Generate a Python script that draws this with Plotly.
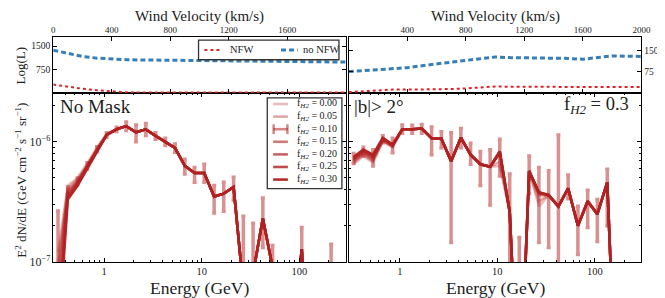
import plotly.graph_objects as go

# ---------------- data ----------------
energy = [0.336, 0.423, 0.532, 0.670, 0.844, 1.06, 1.34, 1.68, 2.12, 2.67,
          3.36, 4.23, 5.32, 6.70, 8.44, 10.6, 13.4, 16.8, 21.2, 26.7,
          33.6, 42.3, 53.2, 67.0, 84.4, 106, 134, 168, 212, 267]

fh2_labels = ["0.00", "0.05", "0.10", "0.15", "0.20", "0.25", "0.30"]
line_alpha = [0.3, 0.4, 0.55, 0.6, 0.7, 0.82, 0.95]

# No Mask spectra (GeV cm^-2 s^-1 sr^-1)
nomask_f000 = [1.2e-7, 4.3e-7, 5.0e-7, 6.6e-7, 9.0e-7, 1.16e-6, 1.27e-6, 1.35e-6, 1.20e-6, 1.27e-6,
               1.12e-6, 1.00e-6, 8.9e-7, 6.3e-7, 5.5e-7, 5.5e-7, 3.5e-7, 3.7e-7, 4.2e-7, 6e-8,
               8e-8, 2.3e-7, 9e-8, 5e-9, 2e-8, 1.28e-7, 5e-9, 5e-9, 5e-9, 5e-9]
nomask_f005 = [1.0e-7, 4.1e-7, 4.85e-7, 6.45e-7, 8.8e-7, 1.15e-6, 1.27e-6, 1.35e-6, 1.20e-6, 1.27e-6,
               1.12e-6, 1.00e-6, 8.9e-7, 6.3e-7, 5.5e-7, 5.5e-7, 3.5e-7, 3.7e-7, 4.2e-7, 6e-8,
               8e-8, 2.3e-7, 9e-8, 5e-9, 2e-8, 1.28e-7, 5e-9, 5e-9, 5e-9, 5e-9]
nomask_f010 = [8e-8, 3.9e-7, 4.7e-7, 6.3e-7, 8.7e-7, 1.15e-6, 1.27e-6, 1.35e-6, 1.20e-6, 1.27e-6,
               1.12e-6, 1.00e-6, 8.9e-7, 6.3e-7, 5.5e-7, 5.5e-7, 3.5e-7, 3.7e-7, 4.2e-7, 6e-8,
               8e-8, 2.3e-7, 9e-8, 5e-9, 2e-8, 1.28e-7, 5e-9, 5e-9, 5e-9, 5e-9]
nomask_f015 = [6e-8, 3.75e-7, 4.6e-7, 6.2e-7, 8.6e-7, 1.14e-6, 1.27e-6, 1.35e-6, 1.20e-6, 1.27e-6,
               1.12e-6, 1.00e-6, 8.9e-7, 6.3e-7, 5.5e-7, 5.5e-7, 3.5e-7, 3.7e-7, 4.2e-7, 6e-8,
               8e-8, 2.3e-7, 9e-8, 5e-9, 2e-8, 1.28e-7, 5e-9, 5e-9, 5e-9, 5e-9]
nomask_f020 = [4e-8, 3.6e-7, 4.5e-7, 6.1e-7, 8.5e-7, 1.14e-6, 1.27e-6, 1.35e-6, 1.20e-6, 1.27e-6,
               1.12e-6, 1.00e-6, 8.9e-7, 6.3e-7, 5.5e-7, 5.5e-7, 3.5e-7, 3.7e-7, 4.2e-7, 6e-8,
               8e-8, 2.3e-7, 9e-8, 5e-9, 2e-8, 1.28e-7, 5e-9, 5e-9, 5e-9, 5e-9]
nomask_f025 = [3e-8, 3.45e-7, 4.4e-7, 6.0e-7, 8.4e-7, 1.14e-6, 1.27e-6, 1.35e-6, 1.20e-6, 1.27e-6,
               1.12e-6, 1.00e-6, 8.9e-7, 6.3e-7, 5.5e-7, 5.5e-7, 3.5e-7, 3.7e-7, 4.2e-7, 6e-8,
               8e-8, 2.3e-7, 9e-8, 5e-9, 2e-8, 1.28e-7, 5e-9, 5e-9, 5e-9, 5e-9]
nomask_f030 = [2e-8, 3.3e-7, 4.3e-7, 5.9e-7, 8.3e-7, 1.14e-6, 1.27e-6, 1.35e-6, 1.20e-6, 1.27e-6,
               1.12e-6, 1.00e-6, 8.9e-7, 6.3e-7, 5.5e-7, 5.5e-7, 3.5e-7, 3.7e-7, 4.2e-7, 6e-8,
               8e-8, 2.3e-7, 9e-8, 5e-9, 2e-8, 1.28e-7, 5e-9, 5e-9, 5e-9, 5e-9]
# error-bar bounds for the f_H2 = 0.10 series (None = no bar)
nomask_err_hi = [2.65e-7, 4.2e-7, 5.0e-7, 6.7e-7, 9.1e-7, 1.19e-6, 1.32e-6, 1.46e-6, 1.38e-6, 1.42e-6,
                 1.19e-6, 1.07e-6, 9.6e-7, 7.14e-7, 6.1e-7, 6.5e-7, 4.33e-7, 4.6e-7, 5.06e-7, 2.4e-7,
                 2.1e-7, 3.4e-7, 1.37e-7, None, None, 1.93e-7, None, None, 1.4e-7, None]
nomask_err_lo = [1e-9, 3.6e-7, 4.4e-7, 5.9e-7, 8.3e-7, 1.09e-6, 1.22e-6, 1.24e-6, 1.00e-6, 1.13e-6,
                 1.05e-6, 9.3e-7, 8.2e-7, 5.39e-7, 4.6e-7, 4.6e-7, 2.55e-7, 2.64e-7, 3.27e-7, 1e-9,
                 1e-9, 1.32e-7, 1e-9, None, None, 1e-9, None, None, 1e-9, None]

# |b| > 2 deg spectra
bmask_f000 = [6.5e-7, 7.6e-7, 6.7e-7, 1.0e-6, 9.0e-7, 1.27e-6, 1.27e-6, 1.29e-6, 1.07e-6, 1.06e-6,
              6.9e-7, 1.08e-6, 7.8e-7, 6.5e-7, 6.2e-7, 6.3e-7, 2.6e-7, 5e-9, 5.7e-7, 2.9e-7,
              3.6e-7, 2.9e-7, 4.1e-7, 2.0e-7, 3.2e-7, 2.5e-7, 4.6e-7, 5e-9, 5e-9, 5e-9]
bmask_f005 = [6.7e-7, 7.8e-7, 6.9e-7, 1.02e-6, 9.1e-7, 1.27e-6, 1.27e-6, 1.29e-6, 1.07e-6, 1.06e-6,
              6.9e-7, 1.08e-6, 7.8e-7, 6.5e-7, 6.2e-7, 6.8e-7, 2.6e-7, 5e-9, 5.7e-7, 3.2e-7,
              3.6e-7, 2.9e-7, 4.1e-7, 2.0e-7, 3.2e-7, 2.5e-7, 4.6e-7, 5e-9, 5e-9, 5e-9]
bmask_f010 = [6.9e-7, 8.0e-7, 7.1e-7, 1.03e-6, 9.2e-7, 1.27e-6, 1.27e-6, 1.29e-6, 1.07e-6, 1.06e-6,
              6.9e-7, 1.08e-6, 7.8e-7, 6.5e-7, 6.2e-7, 8.0e-7, 2.6e-7, 5e-9, 5.7e-7, 3.6e-7,
              3.6e-7, 2.9e-7, 4.1e-7, 2.0e-7, 3.2e-7, 2.5e-7, 4.6e-7, 5e-9, 5e-9, 5e-9]
bmask_f015 = [7.05e-7, 8.2e-7, 7.3e-7, 1.05e-6, 9.3e-7, 1.27e-6, 1.27e-6, 1.29e-6, 1.07e-6, 1.06e-6,
              6.9e-7, 1.08e-6, 7.8e-7, 6.5e-7, 6.2e-7, 8.1e-7, 2.6e-7, 5e-9, 5.7e-7, 3.7e-7,
              3.6e-7, 2.9e-7, 4.1e-7, 2.0e-7, 3.2e-7, 2.5e-7, 4.6e-7, 5e-9, 5e-9, 5e-9]
bmask_f020 = [7.2e-7, 8.35e-7, 7.5e-7, 1.06e-6, 9.4e-7, 1.27e-6, 1.27e-6, 1.29e-6, 1.07e-6, 1.06e-6,
              6.9e-7, 1.08e-6, 7.8e-7, 6.5e-7, 6.2e-7, 8.2e-7, 2.6e-7, 5e-9, 5.7e-7, 3.75e-7,
              3.6e-7, 2.9e-7, 4.1e-7, 2.0e-7, 3.2e-7, 2.5e-7, 4.6e-7, 5e-9, 5e-9, 5e-9]
bmask_f025 = [7.35e-7, 8.5e-7, 7.65e-7, 1.07e-6, 9.45e-7, 1.27e-6, 1.27e-6, 1.29e-6, 1.07e-6, 1.06e-6,
              6.9e-7, 1.08e-6, 7.8e-7, 6.5e-7, 6.2e-7, 8.3e-7, 2.6e-7, 5e-9, 5.7e-7, 3.8e-7,
              3.6e-7, 2.9e-7, 4.1e-7, 2.0e-7, 3.2e-7, 2.5e-7, 4.6e-7, 5e-9, 5e-9, 5e-9]
bmask_f030 = [7.45e-7, 8.6e-7, 7.8e-7, 1.08e-6, 9.5e-7, 1.27e-6, 1.27e-6, 1.29e-6, 1.07e-6, 1.06e-6,
              6.9e-7, 1.08e-6, 7.8e-7, 6.5e-7, 6.2e-7, 8.3e-7, 2.6e-7, 5e-9, 5.7e-7, 3.8e-7,
              3.6e-7, 2.9e-7, 4.1e-7, 2.0e-7, 3.2e-7, 2.5e-7, 4.6e-7, 5e-9, 5e-9, 5e-9]
bmask_err_hi = [8.0e-7, 9.0e-7, 8.6e-7, 1.12e-6, 1.07e-6, 1.38e-6, 1.37e-6, 1.39e-6, 1.33e-6, 1.21e-6,
                1.19e-6, 1.29e-6, 9.7e-7, 8.3e-7, 8.6e-7, 1.05e-6, 5.4e-7, 1.6e-7, 7.6e-7, 6.1e-7,
                5.74e-7, 1.14e-6, 5.3e-7, 2.9e-7, 3.95e-7, 3.31e-7, 5.9e-7, None, None, None]
bmask_err_lo = [6.6e-7, 7.6e-7, 6.3e-7, 9.8e-7, 8.1e-7, 1.18e-6, 1.18e-6, 1.18e-6, 7.8e-7, 8.9e-7,
                1.45e-7, 8.9e-7, 6.5e-7, 4.33e-7, 2.97e-7, 5.2e-7, 1e-9, 1e-9, 3.7e-7, 1.45e-7,
                1.32e-7, 1e-9, 3.36e-7, 1.15e-7, 1.93e-7, 1.48e-7, 2.0e-7, None, None, None]

# Wind velocity scans (top panels)
velocity = [0, 100, 200, 300, 400, 500, 600, 700, 800, 900, 1000,
            1100, 1200, 1300, 1400, 1500, 1600, 1700, 1800, 1900, 2000]
nomask_logL_nfw = [270, 200, 135, 85, 45, 22, 14, 12, 12, 12, 12,
                   12, 12, 12, 12, 12, 12, 12, 12, 12, 12]
nomask_logL_nonfw = [1370, 1260, 1170, 1115, 1085, 1068, 1058, 1050, 1045, 1042, 1040,
                     1035, 1030, 1025, 1020, 1015, 1010, 1005, 1000, 995, 990]
bmask_logL_nfw = [3, 6, 10, 12, 12, 12, 13, 14, 16, 20, 23,
                  22, 22, 21, 21, 21, 21, 21, 21, 21, 21]
bmask_logL_nonfw = [76, 79, 83, 87, 90, 97, 104, 110, 116, 122, 128,
                    126, 125, 125, 125, 123, 120, 126, 132, 131, 130]

# ---------------- layout helpers ----------------
W, H = 665, 298
def px(x): return x / W
def py(y): return 1 - y / H

FONT = "Liberation Serif, DejaVu Serif, serif"
TXT = "#222222"
RED = (178, 34, 34)
BLUE_DASH = "5px,3px"
def rgba(c, a): return "rgba(%d,%d,%d,%.2f)" % (c[0], c[1], c[2], a)

fig = go.Figure()

nomask_series = [nomask_f000, nomask_f005, nomask_f010, nomask_f015, nomask_f020, nomask_f025, nomask_f030]
bmask_series = [bmask_f000, bmask_f005, bmask_f010, bmask_f015, bmask_f020, bmask_f025, bmask_f030]

def err_arrays(vals, hi, lo):
    plus, minus = [], []
    for v, h, l in zip(vals, hi, lo):
        plus.append(0 if h is None else max(h - v, 0))
        minus.append(0 if l is None else max(v - l, 0))
    return plus, minus

for series, hi, lo, xa, ya in [(nomask_series, nomask_err_hi, nomask_err_lo, "x", "y"),
                               (bmask_series, bmask_err_hi, bmask_err_lo, "x2", "y2")]:
    for i, vals in enumerate(series):
        tr = dict(x=energy, y=vals, mode="lines", xaxis=xa, yaxis=ya, showlegend=False,
                  line=dict(color=rgba(RED, line_alpha[i]), width=2.6),
                  name="f_H2 = " + fh2_labels[i])
        if fh2_labels[i] == "0.10":
            p, m = err_arrays(vals, hi, lo)
            tr["error_y"] = dict(type="data", symmetric=False, array=p, arrayminus=m,
                                 color=rgba(RED, 0.5), thickness=3.5, width=2)
        fig.add_trace(go.Scatter(**tr))

for vnfw, vno, xa, ya in [(nomask_logL_nfw, nomask_logL_nonfw, "x3", "y3"),
                          (bmask_logL_nfw, bmask_logL_nonfw, "x4", "y4")]:
    fig.add_trace(go.Scatter(x=velocity, y=vnfw, mode="lines", xaxis=xa, yaxis=ya, showlegend=False,
                             line=dict(color="#d62728", width=2, dash="dot"), name="NFW"))
    fig.add_trace(go.Scatter(x=velocity, y=vno, mode="lines", xaxis=xa, yaxis=ya, showlegend=False,
                             line=dict(color="#377eb8", width=3, dash=BLUE_DASH), name="no NFW"))

common = dict(showline=True, linecolor="black", linewidth=1, mirror="ticks", ticks="inside",
              ticklen=4, tickcolor="black", showgrid=False, zeroline=False,
              tickfont=dict(family=FONT, size=9.5, color=TXT))
xfont = dict(family=FONT, size=10.5, color=TXT)
topfont = dict(family=FONT, size=9, color=TXT)
minor = dict(ticks="inside", ticklen=2, tickcolor="black", showgrid=False, dtick="D1")

xb_dom = [[px(44), px(342)], [px(345), px(643)]]
yb_dom = [py(260), py(87)]
yt_dom = [py(87), py(29.5)]

fig.update_layout(
    width=W, height=H, margin=dict(l=0, r=0, t=0, b=0),
    paper_bgcolor="white", plot_bgcolor="white", showlegend=False,
    xaxis=dict(domain=xb_dom[0], anchor="y", type="log", range=[-0.5229, 2.4771], dtick=1,
               exponentformat="none", minor=minor, **{**common, "tickfont": xfont}),
    yaxis=dict(domain=yb_dom, anchor="x", type="log", range=[-7, -5.5935], dtick=1,
               exponentformat="power", showexponent="all", minor=minor, **common),
    xaxis2=dict(domain=xb_dom[1], anchor="y2", type="log", range=[-0.5229, 2.4771], dtick=1,
                exponentformat="none", minor=minor, **{**common, "tickfont": xfont}),
    yaxis2=dict(domain=yb_dom, anchor="x2", type="log", range=[-7, -5.5935], dtick=1,
                showticklabels=False, minor=minor, **common),
    xaxis3=dict(domain=xb_dom[0], anchor="y3", side="top", range=[0, 2000], ticklabelstandoff=-1,
                tickvals=[0, 400, 800, 1200, 1600], **{**common, "tickfont": topfont}),
    yaxis3=dict(domain=yt_dom, anchor="x3", range=[0, 1800], tickvals=[750, 1500], **common),
    xaxis4=dict(domain=xb_dom[1], anchor="y4", side="top", range=[0, 2000], ticklabelstandoff=-1,
                tickvals=[400, 800, 1200, 1600, 2000], **{**common, "tickfont": topfont}),
    yaxis4=dict(domain=yt_dom, anchor="x4", side="right", range=[0, 200], tickvals=[75, 150], **common),
)

ann = []
def text(t, x, y, size, xanchor="center", angle=0):
    ann.append(dict(text=t, x=px(x), y=py(y), xref="paper", yref="paper", showarrow=False,
                    xanchor=xanchor, yanchor="middle", textangle=angle,
                    font=dict(family=FONT, size=size, color=TXT)))

text("Wind Velocity (km/s)", 193, 9, 15)
text("Wind Velocity (km/s)", 494, 9, 15)
text("Energy (GeV)", 193, 286.5, 17.5)
text("Energy (GeV)", 494, 286.5, 17.5)
text("Log(L)", 11, 59, 13, angle=-90)
text("E<sup>2</sup> dN/dE (GeV cm<sup>−2</sup> s<sup>−1</sup> sr<sup>−1</sup>)", 11, 176, 13, angle=-90)
text("No Mask", 49, 101, 19, xanchor="left")
text("|b|> 2°", 348, 101, 19, xanchor="left")
text("f<sub><i>H2</i></sub> = 0.3", 632, 100, 18.5, xanchor="right")

shapes = []
# top legend
shapes.append(dict(type="rect", xref="paper", yref="paper", x0=px(192), x1=px(335), y0=py(53), y1=py(33),
                   line=dict(color="#333333", width=1.3), fillcolor="white", layer="above"))
shapes.append(dict(type="line", xref="paper", yref="paper", x0=px(198), x1=px(215), y0=py(43), y1=py(43),
                   line=dict(color="#d62728", width=2, dash="dot"), layer="above"))
shapes.append(dict(type="line", xref="paper", yref="paper", x0=px(276), x1=px(293), y0=py(43), y1=py(43),
                   line=dict(color="#377eb8", width=3, dash=BLUE_DASH), layer="above"))
text("NFW", 222, 43, 10.5, xanchor="left")
text("no NFW", 296, 43, 10.5, xanchor="left")

# bottom legend
shapes.append(dict(type="rect", xref="paper", yref="paper", x0=px(262), x1=px(338), y0=py(185), y1=py(92),
                   line=dict(color="#333333", width=1.3), fillcolor="white", layer="above"))
for i, lab in enumerate(fh2_labels):
    yc = 98.3 + 12.9 * i
    col = rgba(RED, line_alpha[i])
    shapes.append(dict(type="line", xref="paper", yref="paper", x0=px(268), x1=px(283), y0=py(yc), y1=py(yc),
                       line=dict(color=col, width=2.6), layer="above"))
    if lab == "0.10":
        for xc in (268.5, 282.5):
            shapes.append(dict(type="line", xref="paper", yref="paper", x0=px(xc), x1=px(xc),
                               y0=py(yc - 5), y1=py(yc + 5), line=dict(color=col, width=2.5), layer="above"))
    text("f<sub><i>H2</i></sub> = " + lab, 290, yc, 10, xanchor="left")

fig.update_layout(annotations=ann, shapes=shapes)
fig.write_html("out.html")
